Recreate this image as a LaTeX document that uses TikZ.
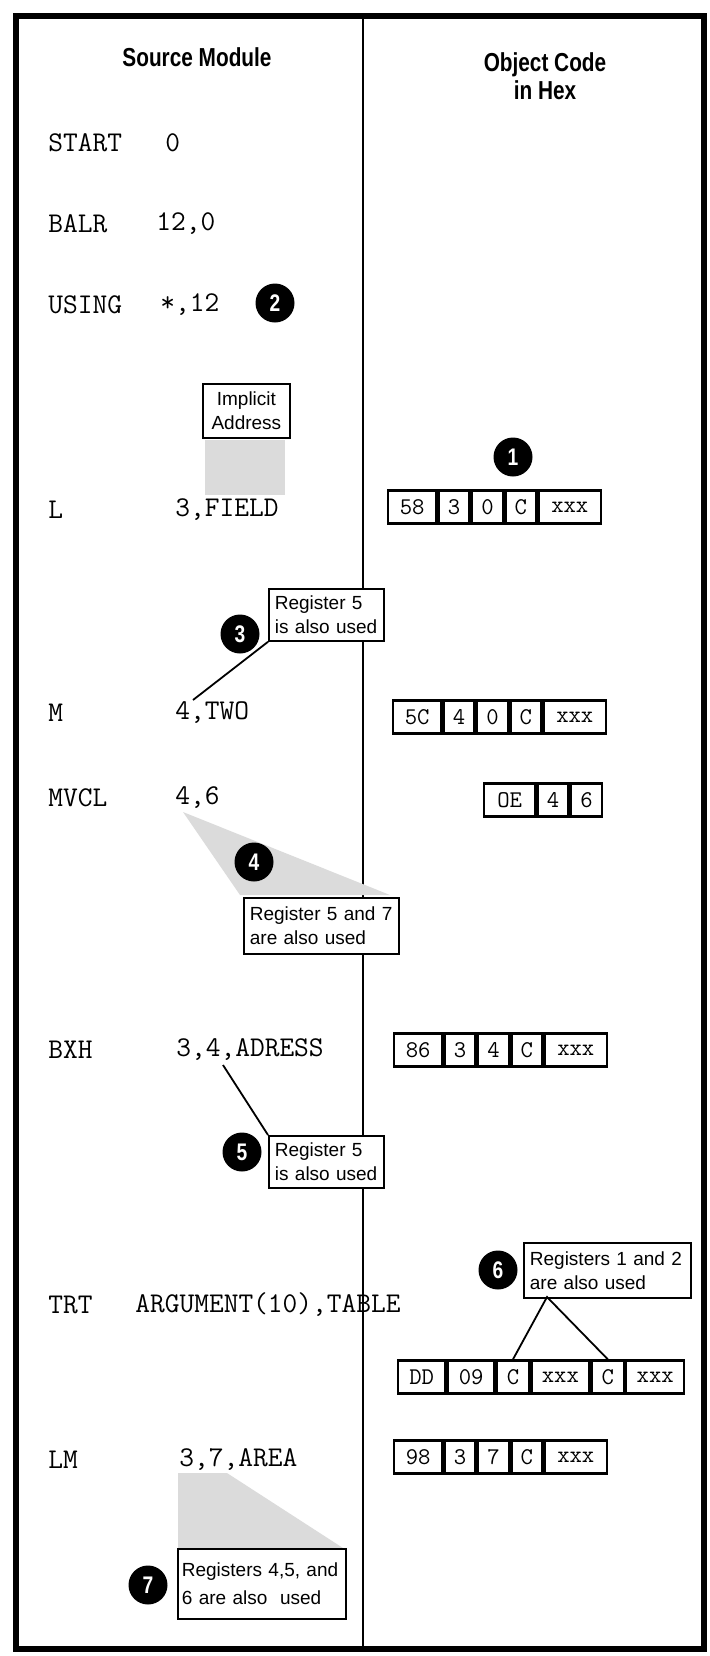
\documentclass[tikz,border=0pt]{standalone}
\usepackage{fontspec}
\setmainfont{Liberation Sans}
\newfontfamily\headfont{Liberation Sans}[FakeStretch=0.8]
\usetikzlibrary{positioning}

\begin{document}
\begin{tikzpicture}[x=0.5pt, y=-0.5pt,
    code/.style={anchor=west, inner sep=0pt, font=\fontsize{14.3}{16}\selectfont\ttfamily},
    heading/.style={align=center, font=\fontsize{13}{14}\selectfont\headfont\bfseries},
    callout/.style={draw, fill=white, line width=0.9pt, align=left, anchor=north west, inner sep=3pt, font=\fontsize{9.5}{12}\selectfont},
    bubble/.style={circle, fill=black, text=white, minimum size=19.5pt, inner sep=0pt, font=\fontsize{12}{12}\selectfont\headfont\bfseries},
    hexcell/.style={draw, line width=1.2pt, minimum height=16.5pt, inner sep=0pt, font=\fontsize{12}{12}\selectfont\ttfamily},
    stipple/.style={fill=gray!28, draw=none}
]

    \useasboundingbox (0,0) rectangle (710,1656);

    % frame and column divider
    \draw [line width=3pt] (16,16) rectangle (704,1649);
    \draw [line width=1.2pt] (363,16) -- (363,1649);

    % headings
    \node (srchead) at (197,57) [heading] {Source Module};
    \node (objhead) at (545,76) [heading] {Object Code\\in Hex};

    % source statements
    \node (start) at (48,143) [code] {START};
    \node (startop) at (165,143) [code] {0};
    \node (balr) at (48,224) [code] {BALR};
    \node (balrop) at (156,224) [code] {12,0};
    \node (using) at (48,305) [code] {USING};
    \node (usingop) at (160,305) [code] {*,12};
    \node (load) at (48,510) [code] {L};
    \node (loadop) at (175,510) [code] {3,FIELD};
    \node (mult) at (48,713) [code] {M};
    \node (multop) at (175,713) [code] {4,TWO};
    \node (mvcl) at (48,798) [code] {MVCL};
    \node (mvclop) at (175,798) [code] {4,6};
    \node (bxh) at (48,1050) [code] {BXH};
    \node (bxhop) at (176,1050) [code] {3,4,ADRESS};
    \node (trt) at (48,1305) [code] {TRT};
    \node (trtop) at (135,1305) [code] {ARGUMENT(10),TABLE};
    \node (lm) at (48,1460) [code] {LM};
    \node (lmop) at (179,1460) [code] {3,7,AREA};

    % shaded pointers
    \fill [stipple] (205,440) rectangle (285,495);
    \fill [stipple] (183,812) -- (240,895) -- (390,895) -- cycle;
    \fill [stipple] (178,1473) -- (227,1473) -- (343,1548) -- (178,1548) -- cycle;

    % object code
    \node (l1) at (387,507) [hexcell, anchor=west, minimum width=24pt] {58};
    \node (l2) [hexcell, right=0pt of l1, minimum width=15.5pt] {3};
    \node (l3) [hexcell, right=0pt of l2, minimum width=15.5pt] {0};
    \node (l4) [hexcell, right=0pt of l3, minimum width=15.5pt] {C};
    \node (l5) [hexcell, right=0pt of l4, minimum width=31pt] {xxx};

    \node (m1) at (392,717) [hexcell, anchor=west, minimum width=24pt] {5C};
    \node (m2) [hexcell, right=0pt of m1, minimum width=15.5pt] {4};
    \node (m3) [hexcell, right=0pt of m2, minimum width=15.5pt] {0};
    \node (m4) [hexcell, right=0pt of m3, minimum width=15.5pt] {C};
    \node (m5) [hexcell, right=0pt of m4, minimum width=31pt] {xxx};

    \node (v1) at (483,800) [hexcell, anchor=west, minimum width=25.5pt] {OE};
    \node (v2) [hexcell, right=0pt of v1, minimum width=15.5pt] {4};
    \node (v3) [hexcell, right=0pt of v2, minimum width=15.5pt] {6};

    \node (b1) at (393,1050) [hexcell, anchor=west, minimum width=24pt] {86};
    \node (b2) [hexcell, right=0pt of b1, minimum width=15.5pt] {3};
    \node (b3) [hexcell, right=0pt of b2, minimum width=15.5pt] {4};
    \node (b4) [hexcell, right=0pt of b3, minimum width=15.5pt] {C};
    \node (b5) [hexcell, right=0pt of b4, minimum width=31pt] {xxx};

    \node (t1) at (397,1377) [hexcell, anchor=west, minimum width=23.5pt] {DD};
    \node (t2) [hexcell, right=0pt of t1, minimum width=23.5pt] {09};
    \node (t3) [hexcell, right=0pt of t2, minimum width=16pt] {C};
    \node (t4) [hexcell, right=0pt of t3, minimum width=29pt] {xxx};
    \node (t5) [hexcell, right=0pt of t4, minimum width=16pt] {C};
    \node (t6) [hexcell, right=0pt of t5, minimum width=29pt] {xxx};

    \node (r1) at (393,1457) [hexcell, anchor=west, minimum width=24pt] {98};
    \node (r2) [hexcell, right=0pt of r1, minimum width=15.5pt] {3};
    \node (r3) [hexcell, right=0pt of r2, minimum width=15.5pt] {7};
    \node (r4) [hexcell, right=0pt of r3, minimum width=15.5pt] {C};
    \node (r5) [hexcell, right=0pt of r4, minimum width=31pt] {xxx};

    % callout boxes
    \node (implicit) at (202,383) [callout, align=center, inner sep=2pt, minimum width=43.5pt, minimum height=27pt] {Implicit\\Address};
    \node (reg5a) at (268,588) [callout, text width=51.5pt, minimum height=26pt] {Register 5\\is also used};
    \node (reg57) at (243,897) [callout, text width=71.5pt, minimum height=28pt] {Register 5 and 7\\are also used};
    \node (reg5b) at (268,1135) [callout, text width=51.5pt, minimum height=26pt] {Register 5\\is also used};
    \node (reg12) at (523,1242) [callout, text width=77.5pt, minimum height=27.5pt] {Registers 1 and 2\\are also used};
    \node (reg456) at (177,1548) [callout, inner sep=2pt, text width=80pt, minimum height=35pt, font=\fontsize{9.5}{14}\selectfont] {Registers 4,5, and\\6 are also\ \ used};

    % pointer lines
    \coordinate (twoarg) at (193,700);
    \coordinate (adrarg) at (223,1065);
    \coordinate (apex) at (547,1297);
    \draw [line width=0.9pt] (twoarg) -- (reg5a.south west);
    \draw [line width=0.9pt] (adrarg) -- (reg5b.north west);
    \draw [line width=0.9pt] (t3.north) -- (apex) -- (t5.north);

    % numbered bubbles
    \node (n1) at (513,457) [bubble] {1};
    \node (n2) at (275,303) [bubble] {2};
    \node (n3) at (240,634) [bubble] {3};
    \node (n4) at (254,862) [bubble] {4};
    \node (n5) at (242,1152) [bubble] {5};
    \node (n6) at (498,1270) [bubble] {6};
    \node (n7) at (148,1585) [bubble] {7};

\end{tikzpicture}
\end{document}
